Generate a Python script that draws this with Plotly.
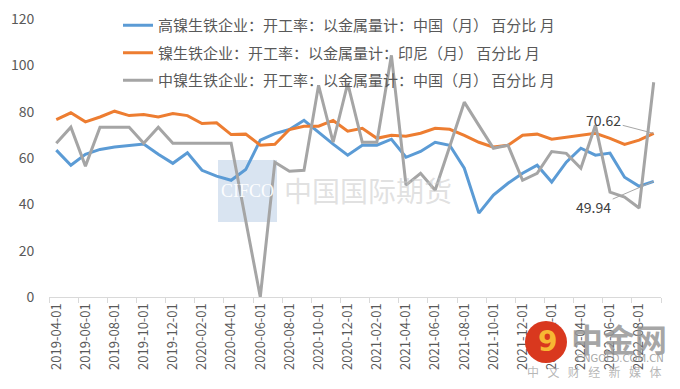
import plotly.graph_objects as go
import pandas as pd

dates = [d.strftime("%Y-%m-%d") for d in pd.date_range("2019-04-01", "2022-09-01", freq="MS")]

high_ni = [63.4, 56.9, 61.6, 63.7, 64.7, 65.4, 66.0, 61.6, 57.7, 62.2, 54.7, 52.2, 50.4, 55.0,
           67.7, 70.5, 72.3, 76.3, 71.0, 66.0, 61.2, 65.5, 65.5, 68.1, 60.3, 62.8, 66.8, 65.5,
           55.6, 36.2, 44.0, 49.1, 53.4, 56.9, 49.6, 58.2, 64.2, 61.2, 62.1, 51.7, 47.8, 49.94]
indo_npi = [76.6, 79.5, 75.6, 77.7, 80.2, 78.3, 78.8, 77.7, 79.2, 78.3, 74.9, 75.2, 70.1, 70.3,
            65.5, 65.9, 72.3, 73.7, 73.7, 76.2, 71.6, 72.8, 68.5, 69.8, 69.4, 70.7, 72.8, 72.4,
            69.8, 66.8, 64.7, 65.5, 69.8, 70.3, 68.1, 69.0, 69.8, 70.7, 68.5, 65.9, 67.7, 70.62]
mid_ni = [66.4, 73.3, 56.5, 73.3, 73.3, 73.3, 66.4, 73.3, 66.4, 66.4, 66.4, 66.4, 66.4, 33.0,
          0.0, 58.2, 54.3, 54.7, 91.4, 66.8, 92.2, 66.8, 66.8, 104.3, 48.3, 53.4, 46.1, 65.0,
          84.1, 74.1, 64.2, 65.5, 50.4, 53.4, 62.8, 62.0, 55.6, 74.1, 45.3, 43.1, 38.4, 92.7]

names = ["高镍生铁企业：开工率：以金属量计：中国（月） 百分比 月",
         "镍生铁企业：开工率：以金属量计：印尼（月） 百分比 月",
         "中镍生铁企业：开工率：以金属量计：中国（月） 百分比 月"]
colors = ["#5B9BD5", "#ED7D31", "#A5A5A5"]
y_ticks = [0, 20, 40, 60, 80, 100, 120]

fig = go.Figure()
for i, (vals, nm, c) in enumerate(zip([high_ni, indo_npi, mid_ni], names, colors)):
    fig.add_trace(go.Scatter(x=dates, y=vals, name=nm, mode="lines",
                             line=dict(color=c, width=3), legendgroup=f"g{i}"))

font_cjk = "Noto Sans CJK SC"
W, H = 680, 389
L, R, T, B = 49, 19, 19, 92
pw, ph = W - L - R, H - T - B

def px(x):
    return (x - L) / pw

def py(y):
    return (H - B - y) / ph

fig.update_layout(
    width=W, height=H,
    margin=dict(l=L, r=R, t=T, b=B, autoexpand=False),
    paper_bgcolor="white", plot_bgcolor="white",
    font=dict(family=font_cjk, color="#595959"),
    showlegend=True,
    legend=dict(x=px(118), y=py(9), xanchor="left", yanchor="top",
                bgcolor="rgba(0,0,0,0)", font=dict(size=15, color="#595959"),
                tracegroupgap=5, itemwidth=30),
    xaxis=dict(type="category", range=[-0.5, len(dates) - 0.5], dtick=2, automargin=False,
               tickson="boundaries", ticks="outside", ticklen=5, tickcolor="#D9D9D9",
               showline=True, linecolor="#D9D9D9", linewidth=1, showgrid=False,
               tickangle=-90, tickfont=dict(size=13, color="#595959", family=font_cjk)),
    yaxis=dict(range=[0, 120], tickvals=y_ticks, showgrid=False, zeroline=False, automargin=False,
               showline=False, ticks="outside", ticklen=11, tickcolor="rgba(0,0,0,0)",
               tickfont=dict(size=14, color="#595959", family=font_cjk)),
)

def note(x, y, text, size, color, family=font_cjk):
    fig.add_annotation(xref="paper", yref="paper", x=px(x), y=py(y), text=text, showarrow=False,
                       xanchor="center", yanchor="middle",
                       font=dict(family=family, size=size, color=color))

# CIFCO watermark
fig.add_shape(type="rect", xref="paper", yref="paper", x0=px(218), x1=px(277), y0=py(222), y1=py(160),
              fillcolor="rgba(180,202,228,0.5)", line=dict(width=0), layer="below")
note(247, 191, "CIFCO", 18, "rgba(255,255,255,0.95)", "Liberation Serif")
note(368, 190, "中国国际期货", 28, "rgba(200,200,200,0.55)")

# value labels
fig.add_annotation(x=dates[-1], y=indo_npi[-1], text=f"{indo_npi[-1]:.2f}", showarrow=True,
                   arrowhead=0, arrowwidth=1, arrowcolor="#A6A6A6", ax=-50, ay=-13,
                   font=dict(size=14, color="#404040"))
fig.add_annotation(x=dates[-1], y=high_ni[-1], text=f"{high_ni[-1]:.2f}", showarrow=True,
                   arrowhead=0, arrowwidth=1, arrowcolor="#A6A6A6", ax=-60, ay=26,
                   font=dict(size=14, color="#404040"))

# 中金网 logo watermark
fig.add_shape(type="circle", xref="paper", yref="paper", x0=px(525), x1=px(567), y0=py(363), y1=py(321),
              fillcolor="#D9381E", line=dict(width=0), layer="above")
note(547, 342, "<b>9</b>", 28, "#F7B733", "DejaVu Sans")
note(619, 338, "<b>中金网</b>", 32, "rgba(150,150,150,0.85)")
note(620, 358, "CNGOLD.COM.CN", 10, "rgba(150,150,150,0.85)", "DejaVu Sans")
note(594, 371, "\u2002\u2009".join("中文财经新媒体"), 12, "rgba(170,170,170,0.85)")

fig.write_html("out.html", config={"displayModeBar": False},
               post_script="document.body.style.margin='0';document.body.style.overflow='hidden';")
